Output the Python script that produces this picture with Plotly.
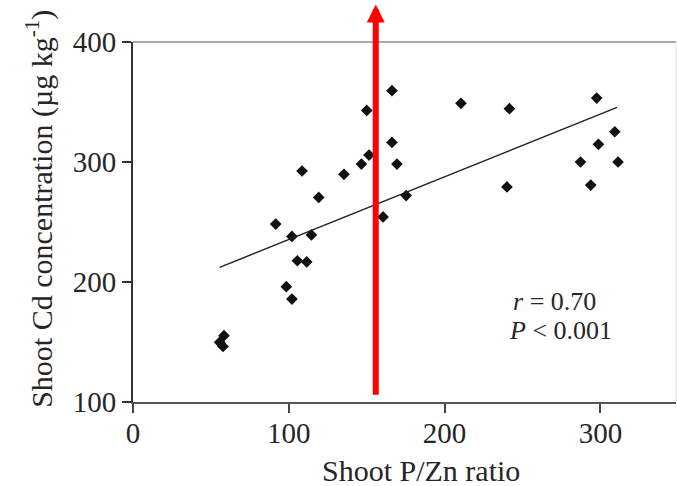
import plotly.graph_objects as go

# Data
pzn_ratio = [166.2, 150.0, 166.2, 151.5, 146.6, 169.4, 108.5, 135.4, 119.2, 175.3,
             160.5, 91.6, 102.0, 114.5, 105.5, 111.5, 98.4, 102.0, 58.4, 55.6,
             57.8, 210.5, 241.6, 297.6, 309.2, 298.7, 287.2, 311.3, 293.8, 240.0]
cd_conc = [359.4, 343.0, 316.3, 305.8, 298.3, 298.3, 292.5, 289.7, 270.5, 272.0,
           254.2, 248.3, 238.0, 239.2, 217.7, 216.7, 196.1, 185.8, 155.3, 149.7,
           146.3, 348.9, 344.4, 353.3, 325.2, 314.7, 300.0, 300.0, 280.8, 279.2]
trend_x = [55.6, 310.7]
trend_y = [212.2, 345.5]
x_ticks = [0, 100, 200, 300]
y_ticks = [100, 200, 300, 400]
arrow_x = 155.8

FONT = "Liberation Serif"
TXT = "#262626"

fig = go.Figure()
fig.add_trace(go.Scatter(x=pzn_ratio, y=cd_conc, mode="markers",
                         marker=dict(symbol="diamond", size=9, color="#111111",
                                     line=dict(width=0)),
                         showlegend=False, hoverinfo="skip"))
fig.add_trace(go.Scatter(x=trend_x, y=trend_y, mode="lines",
                         line=dict(color="#222222", width=1.5),
                         showlegend=False, hoverinfo="skip"))

fig.update_layout(
    width=677, height=486,
    margin=dict(l=133, r=1, t=42, b=84),
    paper_bgcolor="white", plot_bgcolor="white",
    font=dict(family=FONT, color=TXT, size=30),
    xaxis=dict(range=[0, 348.5], tickvals=x_ticks, showgrid=False, zeroline=False,
               showline=True, linecolor="#555555", linewidth=2,
               ticks="outside", ticklen=9, tickwidth=1.5, tickcolor="#444444",
               ticklabelstandoff=-5,
               tickfont=dict(family=FONT, size=29, color=TXT)),
    yaxis=dict(range=[100, 400], tickvals=y_ticks, showgrid=False, zeroline=False,
               showline=True, linecolor="#333333", linewidth=2,
               ticks="outside", ticklen=9, tickwidth=1.5, tickcolor="#333333",
               tickfont=dict(family=FONT, size=29, color=TXT)),
    shapes=[
        dict(type="line", xref="paper", yref="paper", x0=0, x1=1, y0=1, y1=1,
             line=dict(color="#a8a8a8", width=2)),
        dict(type="line", xref="paper", yref="paper", x0=1, x1=1, y0=0, y1=1,
             line=dict(color="#e2e2e2", width=1)),
    ],
    annotations=[
        dict(text="Shoot P/Zn ratio", xref="paper", yref="paper", x=0.53, y=-0.19,
             showarrow=False, xanchor="center", yanchor="middle",
             font=dict(family=FONT, size=30, color=TXT)),
        dict(text="Shoot Cd concentration (µg kg<sup>-1</sup>)", xref="paper", yref="paper",
             x=-0.171, y=0.537, textangle=-90, showarrow=False,
             xanchor="center", yanchor="middle",
             font=dict(family=FONT, size=30, color=TXT)),
        dict(text="<i>r</i> = 0.70", xref="x", yref="y", x=242.5, y=183.8,
             showarrow=False, xanchor="left", yanchor="middle",
             font=dict(family=FONT, size=26, color=TXT)),
        dict(text="<i>P</i> < 0.001", xref="x", yref="y", x=239.9, y=159.4,
             showarrow=False, xanchor="left", yanchor="middle",
             font=dict(family=FONT, size=26, color=TXT)),
        dict(text="", xref="x", yref="paper", x=arrow_x, y=1.104,
             showarrow=True, arrowhead=2, arrowwidth=6, arrowsize=0.6,
             arrowcolor="#ff0000", ax=0, ay=391.7, axref="pixel", ayref="pixel",
             standoff=0, startstandoff=0),
    ],
)

fig.write_html("out.html")
